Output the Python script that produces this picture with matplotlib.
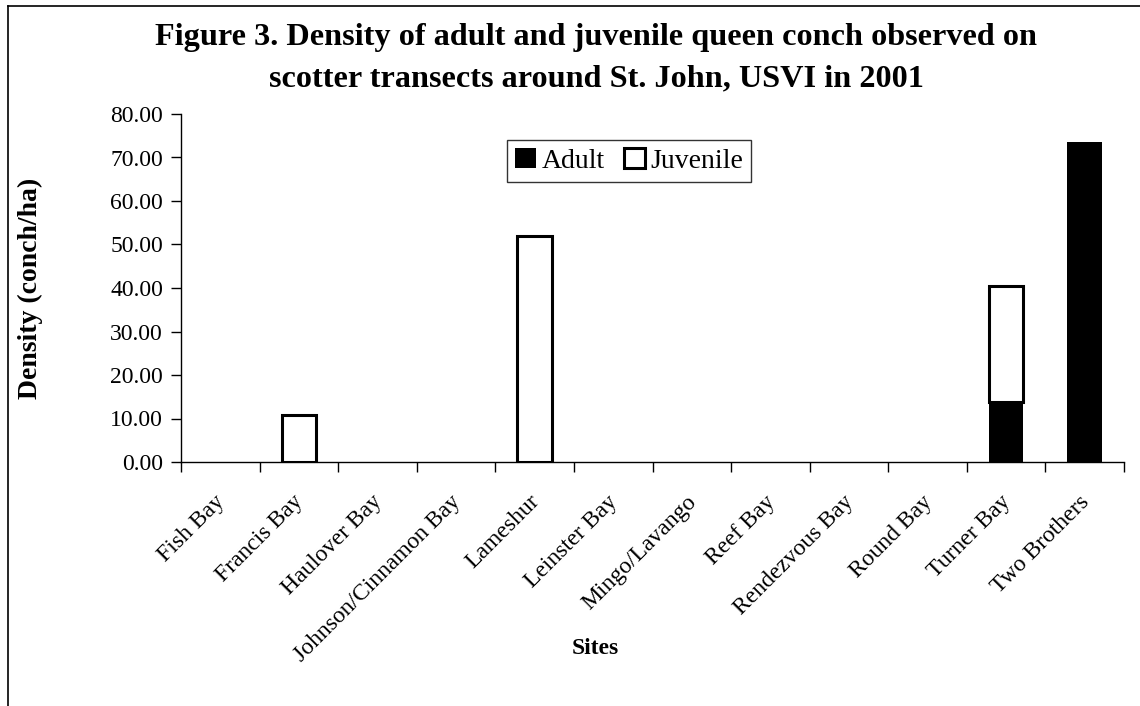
import numpy as np
import matplotlib
matplotlib.use("Agg")
import matplotlib.pyplot as plt
from matplotlib.transforms import ScaledTranslation

# conch density per site (conch/ha)
sites = ["Fish Bay", "Francis Bay", "Haulover Bay", "Johnson/Cinnamon Bay",
         "Lameshur", "Leinster Bay", "Mingo/Lavango", "Reef Bay",
         "Rendezvous Bay", "Round Bay", "Turner Bay", "Two Brothers"]
adult = [0, 0, 0, 0, 0, 0, 0, 0, 0, 0, 13.8, 73.5]
juvenile = [0, 10.9, 0, 0, 52.0, 0, 0, 0, 0, 0, 26.7, 0]
yticks = [0, 10, 20, 30, 40, 50, 60, 70, 80]
title_lines = ["Figure 3. Density of adult and juvenile queen conch observed on",
               "scotter transects around St. John, USVI in 2001"]

plt.rcParams['font.family'] = ['Liberation Serif', 'DejaVu Serif']

W, H = 1140, 706
fig = plt.figure(figsize=(W / 100, H / 100), dpi=100)
ax = fig.add_axes([181 / W, 1 - 462 / H, (1124 - 181) / W, (462 - 114) / H])

x = np.arange(len(sites))
adult = np.array(adult)
juvenile = np.array(juvenile)
ax.bar(x, adult, width=0.44, color='black', edgecolor='black', linewidth=0, label='Adult')
# outlined white bars only where there are juveniles
mask = juvenile > 0
ax.bar(x[mask], juvenile[mask], width=0.44, bottom=adult[mask], color='white',
       edgecolor='black', linewidth=2.2, label='Juvenile')

ax.set_xlim(-0.5, len(sites) - 0.5)
ax.set_ylim(0, 80)
ax.set_yticks(yticks)
ax.set_yticklabels([f"{v:.2f}" for v in yticks], fontsize=17)
ax.tick_params(axis='y', direction='out', length=7, width=1, pad=6)

# category boundaries get the tick marks, centres get the labels
ax.set_xticks(np.arange(len(sites) + 1) - 0.5)
ax.set_xticklabels([])
ax.tick_params(axis='x', which='major', direction='out', length=7, width=1)
ax.set_xticks(x, minor=True)
ax.set_xticklabels(sites, minor=True, rotation=45, ha='right', va='top',
                   rotation_mode='anchor', fontsize=17)
ax.tick_params(axis='x', which='minor', length=0, pad=21)
for lbl in ax.get_xticklabels(minor=True):
    lbl.set_transform(lbl.get_transform() + ScaledTranslation(-0.06, 0, fig.dpi_scale_trans))

for s in ['top', 'right']:
    ax.spines[s].set_visible(False)
for s in ['left', 'bottom']:
    ax.spines[s].set_linewidth(1)

for line, yb in zip(title_lines, [45, 86]):
    fig.text(596 / W, 1 - yb / H, line, ha='center', va='baseline',
             fontsize=23.2, fontweight='bold')
fig.text(30 / W, 1 - 288 / H, "Density (conch/ha)", rotation=90,
         ha='center', va='center', fontsize=20, fontweight='bold')
fig.text(595 / W, 1 - 649 / H, "Sites", ha='center', va='center',
         fontsize=17, fontweight='bold')

leg = ax.legend(loc='center', bbox_to_anchor=(629 / W, 1 - 161 / H),
                bbox_transform=fig.transFigure, ncol=2, fontsize=20,
                frameon=True, fancybox=False, handlelength=0.75, handleheight=0.75,
                handletextpad=0.2, columnspacing=0.7, borderpad=0.3,
                borderaxespad=0)
leg.get_frame().set_edgecolor('black')
leg.get_frame().set_linewidth(1)

# outer chart border (left and top edges visible)
fig.add_artist(plt.Line2D([8 / W, 8 / W], [0, 1 - 6 / H], color='black', lw=1.2,
                          transform=fig.transFigure))
fig.add_artist(plt.Line2D([8 / W, 1], [1 - 6 / H, 1 - 6 / H], color='black', lw=1.2,
                          transform=fig.transFigure))

fig.savefig("out.png", dpi=100)
